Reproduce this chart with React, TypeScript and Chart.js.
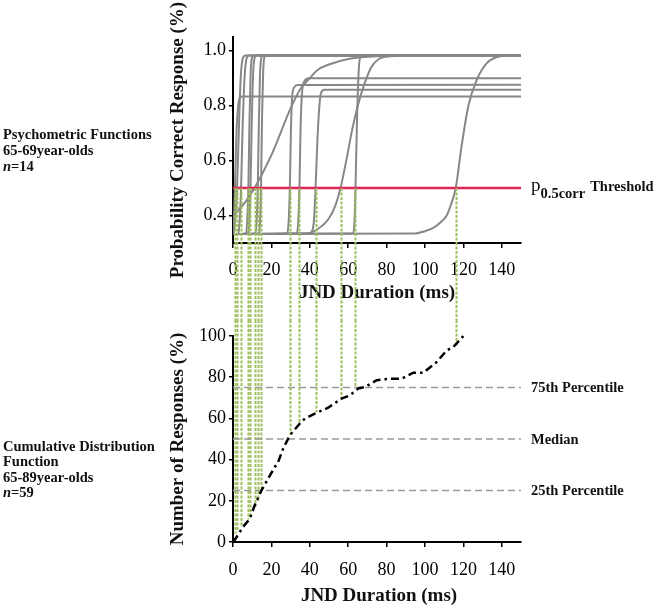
import { useEffect, useRef } from "react";
import { Chart, registerables } from "chart.js";

Chart.register(...registerables);

const SERIF = "'Liberation Serif', 'Times New Roman', serif";

// ---------- tick labels ----------
const xTicks = [0, 20, 40, 60, 80, 100, 120, 140];
const yTopTicks = [0.4, 0.6, 0.8, 1.0];
const yBottomTicks = [0, 20, 40, 60, 80, 100];

// ---------- psychometric functions (JND ms, probability correct) ----------
const curveA: [number, number][] = [[0, 0.333], [0.3, 0.36], [1.0, 0.5], [1.8, 0.7], [2.7, 0.8], [3.7, 0.83], [5, 0.833], [150, 0.833]];
const curveS1: [number, number][] = [[0, 0.333], [0.5, 0.345], [1.3, 0.4], [2.1, 0.5], [3.0, 0.7], [4.0, 0.9], [5.2, 0.975], [6.5, 0.983], [150, 0.983]];
const curveS2: [number, number][] = [[0, 0.333], [2.8, 0.335], [3.5, 0.38], [4.2, 0.5], [5.0, 0.72], [6.0, 0.9], [7.0, 0.97], [8.2, 0.983], [150, 0.983]];
const curveS3: [number, number][] = [[0, 0.333], [6.8, 0.335], [7.4, 0.38], [8.0, 0.5], [8.6, 0.75], [9.2, 0.92], [9.9, 0.975], [10.8, 0.983], [150, 0.983]];
const curveS4: [number, number][] = [[0, 0.333], [7.9, 0.335], [8.5, 0.38], [9.1, 0.5], [9.8, 0.75], [10.5, 0.92], [11.3, 0.975], [12.2, 0.983], [150, 0.983]];
const curveB: [number, number][] = [[0, 0.398], [6, 0.445], [11.2, 0.5], [20, 0.62], [30, 0.79], [35, 0.86], [40, 0.9], [44, 0.93], [50, 0.95], [60, 0.97], [75, 0.98], [90, 0.983], [150, 0.983]];
const curveS5: [number, number][] = [[0, 0.333], [11.7, 0.335], [12.3, 0.38], [12.9, 0.5], [13.5, 0.75], [14.1, 0.92], [14.8, 0.975], [15.6, 0.983], [150, 0.983]];
const curveS6: [number, number][] = [[0, 0.333], [13.6, 0.335], [14.1, 0.38], [14.6, 0.5], [15.1, 0.75], [15.7, 0.92], [16.3, 0.975], [17, 0.983], [150, 0.983]];
const curveC: [number, number][] = [[0, 0.333], [28, 0.335], [29, 0.38], [29.6, 0.5], [30.2, 0.72], [30.9, 0.84], [32, 0.868], [34, 0.875], [150, 0.876]];
const curveD: [number, number][] = [[0, 0.333], [33.2, 0.335], [34, 0.38], [34.6, 0.5], [35.2, 0.72], [36, 0.85], [37.3, 0.89], [39.5, 0.9], [150, 0.9]];
const curveE: [number, number][] = [[0, 0.333], [40, 0.335], [42, 0.37], [43, 0.5], [44, 0.68], [45, 0.8], [45.8, 0.845], [47.5, 0.858], [150, 0.858]];
const curveF: [number, number][] = [[0, 0.333], [38, 0.335], [44, 0.35], [50, 0.39], [53.5, 0.44], [56, 0.5], [59, 0.6], [62, 0.71], [65, 0.8], [68.5, 0.88], [72, 0.94], [76, 0.97], [82, 0.98], [95, 0.983], [150, 0.983]];
const curveG: [number, number][] = [[0, 0.333], [62.5, 0.335], [63.3, 0.38], [63.8, 0.5], [64.6, 0.75], [65.5, 0.93], [66.5, 0.983], [150, 0.983]];
const curveH: [number, number][] = [[0, 0.333], [95, 0.335], [100, 0.343], [104.3, 0.355], [108, 0.375], [111.3, 0.4], [114, 0.45], [116, 0.5], [119, 0.65], [122.6, 0.8], [127, 0.895], [132.2, 0.955], [137.4, 0.977], [144.3, 0.983], [150, 0.983]];

const psychCurves = [curveA, curveS1, curveS2, curveS3, curveS4, curveB, curveS5, curveS6, curveC, curveD, curveE, curveF, curveG, curveH];

const thresholdLevel = 0.5;
const thresholdsMs = [1.0, 2.1, 4.2, 8.0, 9.1, 11.2, 12.9, 14.6, 29.6, 34.6, 43.0, 56.0, 63.8, 116.0];
const cdfAtThresholds = [4, 5, 7.5, 11, 12.5, 17, 20, 24.5, 52, 57.5, 63, 70, 75, 95];

// ---------- cumulative distribution (JND ms, % responses) ----------
const cdfX = [0, 0.9, 5.2, 8.7, 11.3, 14.8, 20, 21.8, 23.5, 26.1, 29.6, 34.8, 37.4, 42.6, 49.6, 56.5, 60.9, 65.2, 68.7, 74.8, 81.7, 87.8, 93.9, 99.1, 106.1, 111.3, 114.8, 120];
const cdfY = [0, 1, 7.3, 11.2, 17.8, 25, 33.5, 36.4, 38.8, 45.3, 51.8, 57.5, 59.9, 62.3, 65.2, 69.6, 71.2, 74.5, 75.2, 78.5, 79.3, 79.3, 82.2, 82.2, 87.4, 93, 94.7, 100];

const percentiles = [75, 50, 25];
const percentileLabels = ["75th Percentile", "Median", "25th Percentile"];

const TEXT = "#111";
const tickFont = { family: SERIF, size: 18 };

function xScale(height: number, pad: number) {
  return {
    type: "linear",
    min: 0,
    max: 150,
    afterBuildTicks: (s: any) => { s.ticks = xTicks.map((v) => ({ value: v })); },
    afterFit: (s: any) => { s.height = height; },
    border: { display: true, color: "#000", width: 2 },
    grid: { display: true, drawOnChartArea: false, drawTicks: true, tickLength: 5, color: "#000", lineWidth: 1.5 },
    ticks: { font: tickFont, color: "#000", padding: pad, maxRotation: 0, autoSkip: false },
  };
}

function yScale(min: number, max: number, ticks: number[], fmt: (v: number) => string) {
  return {
    type: "linear",
    min,
    max,
    afterBuildTicks: (s: any) => { s.ticks = ticks.map((v) => ({ value: v })); },
    afterFit: (s: any) => { s.width = 233; },
    border: { display: true, color: "#000", width: 2 },
    grid: { display: true, drawOnChartArea: false, drawTicks: true, tickLength: 4, color: "#000", lineWidth: 1.5 },
    ticks: { font: tickFont, color: "#000", padding: 3, autoSkip: false, callback: (v: any) => fmt(Number(v)) },
  };
}

const topDecor = {
  id: "topDecor",
  afterDraw(chart: any) {
    const { ctx, chartArea } = chart;
    const x = chart.scales.x;
    const y = chart.scales.y;
    ctx.save();
    ctx.fillStyle = TEXT;
    ctx.font = `bold 19px ${SERIF}`;
    ctx.textAlign = "center";
    ctx.textBaseline = "alphabetic";
    ctx.fillText("JND Duration (ms)", (chartArea.left + chartArea.right) / 2, 298);
    ctx.save();
    ctx.translate(183, (chartArea.top + chartArea.bottom) / 2);
    ctx.rotate(-Math.PI / 2);
    ctx.fillText("Probability Correct Response (%)", 0, 0);
    ctx.restore();

    const y0 = y.getPixelForValue(thresholdLevel);
    // threshold label
    ctx.textAlign = "left";
    let lx = chartArea.right + 10;
    ctx.font = `19px ${SERIF}`;
    ctx.fillText("p", lx, y0 + 3);
    lx += ctx.measureText("p").width;
    ctx.font = `bold 14.5px ${SERIF}`;
    ctx.fillText("0.5corr", lx, y0 + 9.5);
    lx += ctx.measureText("0.5corr").width + 5;
    ctx.fillText("Threshold", lx, y0 + 2.5);

    // green drop lines
    ctx.strokeStyle = "#9cbf5a";
    ctx.lineWidth = 2;
    ctx.setLineDash([3, 1.5]);
    thresholdsMs.forEach((t) => {
      const px = Math.round(x.getPixelForValue(t)) + 0.5;
      ctx.beginPath();
      ctx.moveTo(px, y0);
      ctx.lineTo(px, chart.height);
      ctx.stroke();
    });
    ctx.restore();
  },
};

const bottomDecor = {
  id: "bottomDecor",
  beforeDatasetsDraw(chart: any) {
    const { ctx } = chart;
    const x = chart.scales.x;
    const y = chart.scales.y;
    ctx.save();
    ctx.strokeStyle = "#9cbf5a";
    ctx.lineWidth = 2;
    ctx.setLineDash([3, 1.5]);
    thresholdsMs.forEach((t, i) => {
      const px = Math.round(x.getPixelForValue(t)) + 0.5;
      ctx.beginPath();
      ctx.moveTo(px, 0);
      ctx.lineTo(px, y.getPixelForValue(cdfAtThresholds[i]));
      ctx.stroke();
    });
    ctx.restore();
  },
  afterDraw(chart: any) {
    const { ctx, chartArea } = chart;
    const y = chart.scales.y;
    ctx.save();
    ctx.fillStyle = TEXT;
    ctx.font = `bold 19px ${SERIF}`;
    ctx.textAlign = "center";
    ctx.textBaseline = "alphabetic";
    ctx.fillText("JND Duration (ms)", (chartArea.left + chartArea.right) / 2 + 2, 281);
    ctx.save();
    ctx.translate(183, (chartArea.top + chartArea.bottom) / 2);
    ctx.rotate(-Math.PI / 2);
    ctx.fillText("Number of Responses (%)", 0, 0);
    ctx.restore();

    ctx.font = `bold 14.5px ${SERIF}`;
    ctx.textAlign = "left";
    ctx.textBaseline = "middle";
    percentiles.forEach((p, i) => {
      ctx.fillText(percentileLabels[i], chartArea.right + 10, y.getPixelForValue(p) + 1);
    });
    ctx.restore();
  },
};

export default function App() {
  const topRef = useRef<HTMLCanvasElement | null>(null);
  const bottomRef = useRef<HTMLCanvasElement | null>(null);

  useEffect(() => {
    if (!topRef.current || !bottomRef.current) return;

    const top = new Chart(topRef.current, {
      type: "line",
      data: {
        datasets: [
          {
            data: [{ x: 0, y: thresholdLevel }, { x: 150, y: thresholdLevel }],
            borderColor: "#e0245a",
            borderWidth: 2.5,
            pointRadius: 0,
          },
          ...psychCurves.map((c) => ({
            data: c.map(([px, py]) => ({ x: px, y: py })),
            borderColor: "#878787",
            borderWidth: 2,
            pointRadius: 0,
            cubicInterpolationMode: "monotone",
            fill: false,
          })),
        ],
      } as any,
      options: {
        animation: false,
        responsive: false,
        maintainAspectRatio: false,
        events: [],
        layout: { padding: { left: 0, right: 133, top: 37, bottom: 0 } },
        plugins: { legend: { display: false }, tooltip: { enabled: false } },
        scales: {
          x: xScale(77, 11),
          y: yScale(0.3, 1.05, yTopTicks, (v) => v.toFixed(1)),
        },
      } as any,
      plugins: [topDecor],
    });

    const bottom = new Chart(bottomRef.current, {
      type: "line",
      data: {
        datasets: [
          {
            data: cdfX.map((vx, i) => ({ x: vx, y: cdfY[i] })),
            borderColor: "#000",
            borderWidth: 2.5,
            borderDash: [8, 4, 2.5, 4],
            pointRadius: 0,
            tension: 0,
            clip: 4,
          },
          ...percentiles.map((p) => ({
            data: [{ x: 0, y: p }, { x: 150, y: p }],
            borderColor: "#9a9a9a",
            borderWidth: 1.5,
            borderDash: [7, 4],
            pointRadius: 0,
          })),
        ],
      } as any,
      options: {
        animation: false,
        responsive: false,
        maintainAspectRatio: false,
        events: [],
        layout: { padding: { left: 0, right: 133, top: 16, bottom: 0 } },
        plugins: { legend: { display: false }, tooltip: { enabled: false } },
        scales: {
          x: xScale(64, 12),
          y: yScale(0, 100, yBottomTicks, (v) => String(v)),
        },
      } as any,
      plugins: [bottomDecor],
    });

    return () => {
      top.destroy();
      bottom.destroy();
    };
  }, []);

  const blockStyle: any = {
    position: "absolute",
    left: 3,
    fontFamily: SERIF,
    fontWeight: "bold",
    fontSize: "14.5px",
    color: TEXT,
    whiteSpace: "nowrap",
  };

  return (
    <div style={{ position: "absolute", left: 0, top: 0, width: 654, height: 606, background: "#fff", overflow: "hidden" }}>
      <canvas ref={topRef} width={654} height={320} style={{ position: "absolute", left: 0, top: 0, display: "block" }} />
      <canvas ref={bottomRef} width={654} height={286} style={{ position: "absolute", left: 0, top: 320, display: "block" }} />
      <div style={{ ...blockStyle, top: 125.5, lineHeight: "16px" }}>
        Psychometric Functions
        <br />
        65-69year-olds
        <br />
        <i>n</i>=14
      </div>
      <div style={{ ...blockStyle, top: 438.5, lineHeight: "15.5px" }}>
        Cumulative Distribution
        <br />
        Function
        <br />
        65-89year-olds
        <br />
        <i>n</i>=59
      </div>
    </div>
  );
}
